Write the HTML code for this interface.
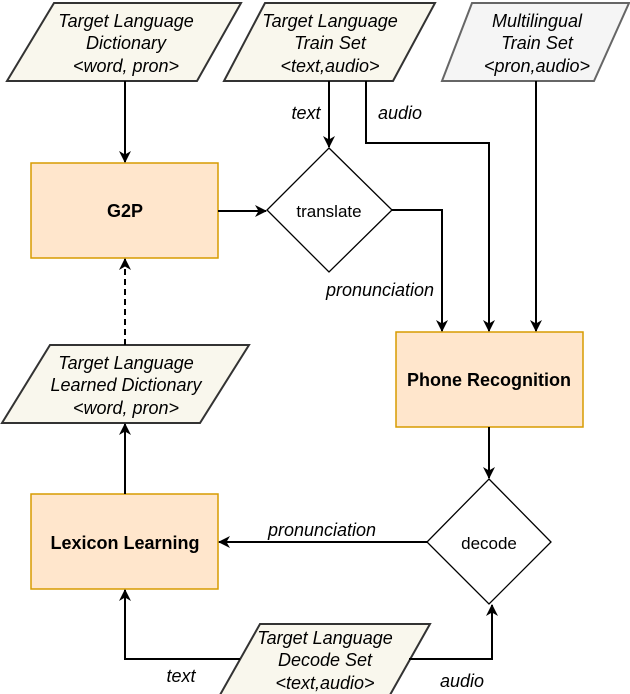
<!DOCTYPE html>
<html><head><style>
html,body{margin:0;padding:0;background:#fff;}
svg{display:block;}
text{font-family:"Liberation Sans",sans-serif;font-size:18px;fill:#000;}
.i{font-style:italic;}
.b{font-weight:bold;}
</style></head><body>
<svg width="630" height="694" viewBox="0 0 630 694">
<defs>
<marker id="a" markerWidth="12" markerHeight="12" refX="11" refY="6" orient="auto" markerUnits="userSpaceOnUse">
<path d="M0,0 L12,6 L0,12 L3.5,6 Z" fill="#000"/>
</marker>
</defs>
<g fill="#f9f7ed" stroke="#333" stroke-width="2">
<polygon points="54,3 241,3 197,81 7,81"/>
<polygon points="265,3 435,3 393,81 224,81"/>
<polygon points="50,345 249,345 200,423 2,423"/>
<polygon points="260,624 430,624 386,702 216,702"/>
</g>
<polygon points="472,3 629,3 594,81 442,81" fill="#f5f5f5" stroke="#666" stroke-width="2"/>
<g fill="#ffe6cc" stroke="#d79b00" stroke-width="1.5">
<rect x="31" y="163" width="187" height="95"/>
<rect x="31" y="494" width="187" height="95"/>
<rect x="396" y="332" width="187" height="95"/>
</g>
<g fill="#fff" stroke="#000" stroke-width="1.3">
<polygon points="329,148 392,210 329,272 267,210"/>
<polygon points="489,479 551,542 489,604 427,542"/>
</g>
<g stroke="#000" stroke-width="2" fill="none" marker-end="url(#a)">
<line x1="125" y1="81" x2="125" y2="162"/>
<line x1="329" y1="81" x2="329" y2="147"/>
<polyline points="366,81 366,143 489,143 489,331"/>
<line x1="536" y1="81" x2="536" y2="331"/>
<line x1="218" y1="211" x2="266" y2="211"/>
<polyline points="392,210 442,210 442,331"/>
<line x1="125" y1="345" x2="125" y2="259" stroke-dasharray="6,4"/>
<line x1="489" y1="427" x2="489" y2="478"/>
<line x1="427" y1="542" x2="219" y2="542"/>
<line x1="125" y1="494" x2="125" y2="424"/>
<polyline points="240,659 125,659 125,590"/>
<polyline points="409,659 492,659 492,605"/>
</g>
<g class="i" text-anchor="middle">
<text x="126" y="27">Target Language</text>
<text x="126" y="49">Dictionary</text>
<text x="126" y="72">&lt;word, pron&gt;</text>
<text x="330" y="27">Target Language</text>
<text x="330" y="49">Train Set</text>
<text x="330" y="72">&lt;text,audio&gt;</text>
<text x="537" y="27" fill="#333">Multilingual</text>
<text x="537" y="49" fill="#333">Train Set</text>
<text x="537" y="72" fill="#333">&lt;pron,audio&gt;</text>
<text x="126" y="369">Target Language</text>
<text x="126" y="391">Learned Dictionary</text>
<text x="126" y="414">&lt;word, pron&gt;</text>
<text x="325" y="644">Target Language</text>
<text x="325" y="666">Decode Set</text>
<text x="325" y="689">&lt;text,audio&gt;</text>
<text x="306" y="119">text</text>
<text x="400" y="119">audio</text>
<text x="380" y="296">pronunciation</text>
<text x="322" y="536">pronunciation</text>
<text x="181" y="682">text</text>
<text x="462" y="687">audio</text>
</g>
<g text-anchor="middle">
<text class="b" x="125" y="217">G2P</text>
<text class="b" x="125" y="549">Lexicon Learning</text>
<text class="b" x="489" y="386">Phone Recognition</text>
<text x="329" y="217" style="font-size:17px">translate</text>
<text x="489" y="549" style="font-size:17px">decode</text>
</g>
</svg>
</body></html>
